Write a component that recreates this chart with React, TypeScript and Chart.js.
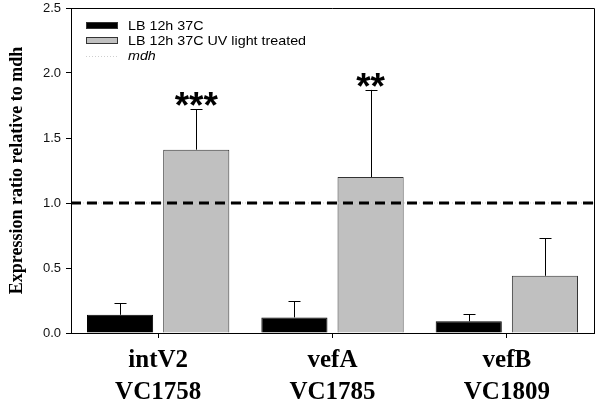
import React, { useEffect, useRef } from 'react';
import { Chart, registerables } from 'chart.js';

Chart.register(...registerables);

// ---- data ----
const categories: string[][] = [
  ['intV2', 'VC1758'],
  ['vefA', 'VC1785'],
  ['vefB', 'VC1809'],
];
const seriesNames = ['LB 12h 37C', 'LB 12h 37C UV light treated'];
const referenceName = 'mdh';
const controlValues = [0.14, 0.12, 0.09];
const controlErrors = [0.09, 0.125, 0.055];
const uvValues = [1.41, 1.2, 0.44];
const uvErrors = [0.31, 0.67, 0.29];
const uvSignificance = ['***', '**', ''];
const referenceLevel = 1.0;
const yMin = 0;
const yMax = 2.5;
const yStep = 0.5;
const yTitle = 'Expression ratio relative to mdh';

const errorsByDataset = [controlErrors, uvErrors];
const marksByDataset = [['', '', ''], uvSignificance];

const BLACK = '#000000';
const GREY = '#c0c0c0';

const overlayPlugin = {
  id: 'overlay',
  afterDatasetsDraw(chart: any) {
    const { ctx, chartArea } = chart;
    const yScale = chart.scales.y;
    ctx.save();
    chart.data.datasets.forEach((ds: any, di: number) => {
      const meta = chart.getDatasetMeta(di);
      meta.data.forEach((el: any, i: number) => {
        const v = ds.data[i];
        const e = errorsByDataset[di][i];
        const yTop = yScale.getPixelForValue(v + e);
        const yBar = el.y;
        const cx = Math.round(el.x) + 0.5;
        ctx.strokeStyle = '#000';
        ctx.lineWidth = 1;
        ctx.beginPath();
        ctx.moveTo(cx, yBar);
        ctx.lineTo(cx, yTop);
        ctx.moveTo(cx - 6, Math.round(yTop) + 0.5);
        ctx.lineTo(cx + 6, Math.round(yTop) + 0.5);
        ctx.stroke();
        const mark = marksByDataset[di][i];
        if (mark) {
          ctx.font = 'bold 37px "Liberation Sans", Arial, sans-serif';
          ctx.fillStyle = '#000';
          ctx.textAlign = 'center';
          ctx.textBaseline = 'alphabetic';
          const m = ctx.measureText(mark);
          const desc = m.actualBoundingBoxDescent || 0;
          ctx.fillText(mark, el.x, yTop - 3 - desc);
        }
      });
    });
    const yRef = Math.round(yScale.getPixelForValue(referenceLevel));
    ctx.strokeStyle = '#cfcfcf';
    ctx.lineWidth = 1;
    ctx.setLineDash([1, 2]);
    ctx.beginPath();
    ctx.moveTo(chartArea.left, yRef);
    ctx.lineTo(chartArea.right, yRef);
    ctx.stroke();
    ctx.strokeStyle = '#000';
    ctx.lineWidth = 3;
    ctx.setLineDash([10, 6]);
    ctx.beginPath();
    ctx.moveTo(chartArea.left, yRef);
    ctx.lineTo(chartArea.right, yRef);
    ctx.stroke();
    ctx.setLineDash([]);
    ctx.restore();
  },
  afterDraw(chart: any) {
    const { ctx, chartArea } = chart;
    ctx.save();
    ctx.strokeStyle = '#000';
    ctx.lineWidth = 1;
    ctx.beginPath();
    ctx.moveTo(chartArea.left, chartArea.top + 0.5);
    ctx.lineTo(chartArea.right + 0.5, chartArea.top + 0.5);
    ctx.lineTo(chartArea.right + 0.5, chartArea.bottom);
    ctx.stroke();
    // legend
    const lx = chartArea.left + 15;
    const ly = chartArea.top + 14;
    const rowH = 15;
    const boxW = 32;
    const boxH = 7;
    const textX = lx + 42;
    ctx.font = '13px "Liberation Sans", Arial, sans-serif';
    ctx.textBaseline = 'middle';
    ctx.textAlign = 'left';
    const fills = [BLACK, GREY];
    seriesNames.forEach((name, i) => {
      const cy = ly + i * rowH + boxH / 2;
      ctx.fillStyle = fills[i];
      ctx.fillRect(lx, ly + i * rowH, boxW, boxH);
      ctx.strokeStyle = '#333';
      ctx.lineWidth = 1;
      ctx.strokeRect(lx + 0.5, ly + i * rowH + 0.5, boxW - 1, boxH - 1);
      ctx.fillStyle = '#000';
      ctx.save();
      ctx.translate(textX, cy + 0.5);
      ctx.scale(1.1, 1);
      ctx.fillText(name, 0, 0);
      ctx.restore();
    });
    const cy3 = ly + 2 * rowH + boxH / 2;
    ctx.strokeStyle = '#cfcfcf';
    ctx.setLineDash([1, 2]);
    ctx.beginPath();
    ctx.moveTo(lx, Math.round(cy3) + 0.5);
    ctx.lineTo(lx + boxW, Math.round(cy3) + 0.5);
    ctx.stroke();
    ctx.setLineDash([]);
    ctx.font = 'italic 13px "Liberation Sans", Arial, sans-serif';
    ctx.fillStyle = '#000';
    ctx.save();
    ctx.translate(textX, cy3 + 0.5);
    ctx.scale(1.1, 1);
    ctx.fillText(referenceName, 0, 0);
    ctx.restore();
    ctx.restore();
  },
};

export default function App() {
  const ref = useRef<HTMLCanvasElement | null>(null);
  useEffect(() => {
    if (!ref.current) return;
    const chart = new Chart(ref.current, {
      type: 'bar',
      data: {
        labels: categories,
        datasets: [
          {
            label: seriesNames[0],
            data: controlValues,
            backgroundColor: BLACK,
            borderColor: BLACK,
            borderWidth: 1,
            categoryPercentage: 0.874,
            barPercentage: 0.868,
          },
          {
            label: seriesNames[1],
            data: uvValues,
            backgroundColor: GREY,
            borderColor: '#333333',
            borderWidth: 1,
            categoryPercentage: 0.874,
            barPercentage: 0.868,
          },
        ],
      },
      options: {
        responsive: false,
        animation: false,
        layout: { padding: { top: 8, right: 6, left: 0, bottom: 0 } },
        plugins: {
          legend: { display: false },
          tooltip: { enabled: false },
        },
        scales: {
          x: {
            grid: {
              display: true,
              drawOnChartArea: false,
              offset: false,
              tickLength: 5,
              color: '#000',
            },
            border: { display: true, color: '#000', width: 1 },
            ticks: {
              color: '#000',
              padding: 7,
              font: { family: '"Liberation Serif", "Times New Roman", serif', size: 25, weight: 'bold', lineHeight: 1.26 },
              maxRotation: 0,
              autoSkip: false,
            },
            afterFit(scale: any) {
              scale.height = 75;
              scale.paddingLeft = 0;
              scale.paddingRight = 0;
            },
          },
          y: {
            min: yMin,
            max: yMax,
            grid: {
              display: true,
              drawOnChartArea: false,
              tickLength: 5,
              color: '#000',
            },
            border: { display: true, color: '#000', width: 1 },
            ticks: {
              stepSize: yStep,
              color: '#111',
              padding: 5,
              font: { family: '"Liberation Sans", Arial, sans-serif', size: 13 },
              callback: (v: any) => Number(v).toFixed(1),
            },
            title: {
              display: true,
              text: yTitle,
              color: '#000',
              padding: { top: 7, bottom: 0 },
              font: { family: '"Liberation Serif", "Times New Roman", serif', size: 18, weight: 'bold', lineHeight: 1.2 },
            },
            afterFit(scale: any) {
              scale.width = 71;
              scale.paddingTop = 0;
              scale.paddingBottom = 0;
            },
          },
        },
      },
      plugins: [overlayPlugin],
    });
    return () => chart.destroy();
  }, []);
  return (
    <div style={{ position: 'fixed', left: 0, top: 0, width: 600, height: 408, background: '#fff' }}>
      <canvas ref={ref} width={600} height={408} />
    </div>
  );
}
